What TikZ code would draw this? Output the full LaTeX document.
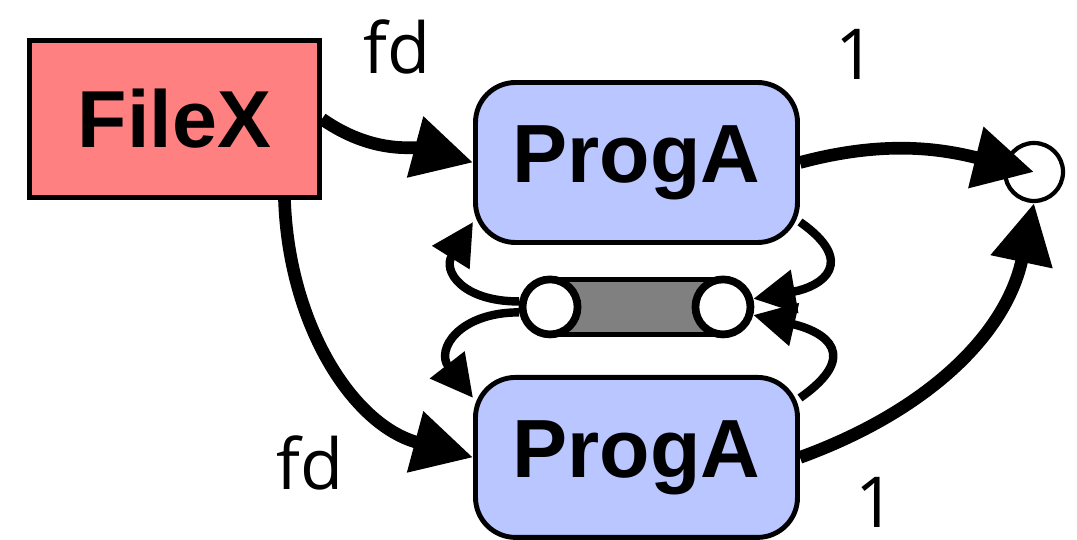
\documentclass[tikz,border=0pt]{standalone}
\usepackage{fontspec}
\setmainfont{Liberation Sans}
\newfontfamily\labelfont{Open Sans}
\usetikzlibrary{positioning, arrows.meta, calc}
\definecolor{filered}{RGB}{255,128,128}
\definecolor{progblue}{RGB}{186,198,255}
\definecolor{pipegray}{RGB}{128,128,128}

\begin{document}
\begin{tikzpicture}[
  filebox/.style={draw, line width=1.4pt, fill=filered, minimum width=2.9cm, minimum height=1.57cm, inner sep=0pt, font=\fontsize{23}{26}\selectfont\bfseries},
  progbox/.style={draw, line width=1.4pt, fill=progblue, rounded corners=0.4cm, minimum width=3.22cm, minimum height=1.6cm, inner sep=0pt, font=\fontsize{23.5}{26}\selectfont\bfseries},
  pipebody/.style={draw, line width=1.4pt, fill=pipegray, minimum width=1.68cm, minimum height=0.55cm, inner sep=0pt},
  pipeend/.style={circle, draw, line width=2.2pt, fill=white, minimum size=0.55cm, inner sep=0pt},
  sink/.style={circle, draw, line width=1.2pt, fill=white, minimum size=0.58cm, inner sep=0pt},
  fdlabel/.style={font=\labelfont\fontsize{20}{22}\selectfont},
  flow/.style={line width=3.6pt, -{Triangle[length=0.6cm, width=0.6cm]}},
  pipeflow/.style={line width=2.4pt, -{Triangle[length=0.42cm, width=0.42cm]}}
]
\useasboundingbox (0,0) rectangle (10.77,5.40);

% Boxes
\node[filebox] (filex) at (1.745,4.21) {FileX};
\node[progbox] (proga) at (6.365,3.775) {ProgA};
\node[progbox, below=1.30cm of proga] (progb) {ProgA};
\node[sink] (out) at (10.34,3.68) {};

% Pipe between the two processes
\node[pipebody, below=0.32cm of proga] (pipe) {};
\node[pipeend] (pipeL) at (pipe.west) {};
\node[pipeend] (pipeR) at (pipe.east) {};

% Descriptors
\draw[flow] (filex.east) to[out=-35, in=165] (proga.west);
\draw[flow] ($(filex.south)+(1.1,0)$) to[out=-88, in=165] (progb.west);
\draw[flow] (proga.east) to[out=15, in=166] (out.center);
\draw[flow] (progb.east) to[out=20, in=-102] (out.south);

% Pipe ends
\draw[pipeflow] (proga.-20) to[out=-35, in=10, looseness=2] (pipeR.15);
\draw[pipeflow] (progb.20) to[out=35, in=-13, looseness=2] (pipeR.-15);
\draw[pipeflow] (pipeL.170) to[out=180, in=-122, looseness=1.6] (proga.-160);
\draw[pipeflow] (pipeL.-170) to[out=180, in=128, looseness=1.6] (progb.160);

% Labels
\node[fdlabel] (fdA) at (3.97,4.93) {fd};
\node[fdlabel] (oneA) at (8.56,4.86) {1};
\node[fdlabel] (fdB) at (3.10,0.77) {fd};
\node[fdlabel] (oneB) at (8.76,0.38) {1};

\end{tikzpicture}
\end{document}
